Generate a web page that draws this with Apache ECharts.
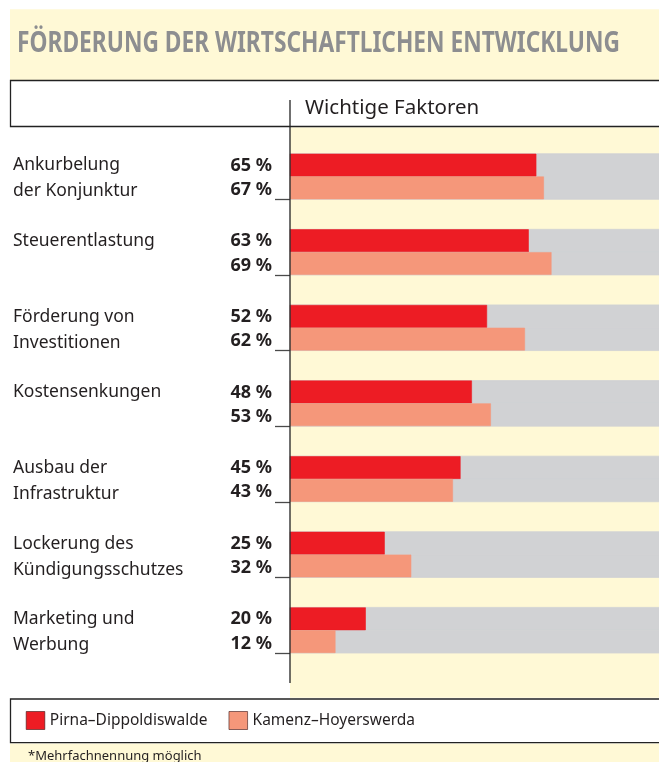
<!DOCTYPE html>
<html><head><meta charset="utf-8">
<script src="https://cdn.jsdelivr.net/npm/echarts@6/dist/echarts.min.js"></script>
<style>html,body{margin:0;padding:0;background:#fff}#c{width:659px;height:762px}</style>
</head><body><div id="c"></div>
<script>
// ---- data ----
const categories = [
  'Ankurbelung\nder Konjunktur',
  'Steuerentlastung',
  'Förderung von\nInvestitionen',
  'Kostensenkungen',
  'Ausbau der\nInfrastruktur',
  'Lockerung des\nKündigungsschutzes',
  'Marketing und\nWerbung'
];
const pirna = [65, 63, 52, 48, 45, 25, 20];
const kamenz = [67, 69, 62, 53, 43, 32, 12];
const seriesNames = ['Pirna–Dippoldiswalde', 'Kamenz–Hoyerswerda'];
const titleText = 'FÖRDERUNG DER WIRTSCHAFTLICHEN ENTWICKLUNG';
const columnTitle = 'Wichtige Faktoren';
const footnote = '*Mehrfachnennung möglich';

// ---- styles ----
const FONT = '"Noto Sans", "Open Sans", sans-serif';
const YELLOW = '#FFF9D6';
const RED = '#ED1C24';
const SALMON = '#F5977A';
const GRAY = '#D1D2D4';
const INK = '#231F20';
const TITLE_FONT = 'bold 28px "Noto Sans", sans-serif';

// fit title to its printed width
const mctx = document.createElement('canvas').getContext('2d');
mctx.font = TITLE_FONT;
const titleScale = 603 / mctx.measureText(titleText).width;

const chart = echarts.init(document.getElementById('c'), null, {renderer: 'canvas'});

const valueLabel = (dy) => ({
  show: true,
  position: [-18, '50%'],
  offset: [0, dy],
  align: 'right',
  verticalAlign: 'middle',
  formatter: '{c} %',
  fontFamily: FONT,
  fontWeight: 'bold',
  fontSize: 18,
  color: INK
});

chart.setOption({
  animation: false,
  backgroundColor: '#fff',
  grid: {left: 290, top: 123.7, width: 379, height: 529.3, containLabel: false, outerBoundsMode: 'none'},
  xAxis: {type: 'value', min: 0, max: 100, show: false},
  yAxis: {
    type: 'category',
    inverse: true,
    data: categories,
    axisLine: {show: false},
    axisTick: {
      show: true,
      length: 15,
      interval: (i) => i > 0,
      lineStyle: {color: '#4a4a4a', width: 1.3}
    },
    axisLabel: {
      interval: 0,
      align: 'left',
      margin: 277,
      formatter: (v) => {
        const lines = v.split('\n');
        while (lines.length < 2) lines.push(' ');
        return '{s| }\n' + lines.map(l => '{t|' + l + '}').join('\n');
      },
      rich: {
        s: {lineHeight: 34, fontSize: 2},
        t: {lineHeight: 26, fontSize: 17.5, fontFamily: FONT, color: INK}
      }
    }
  },
  legend: {
    data: seriesNames,
    left: 25.7,
    top: 711,
    itemWidth: 18.6,
    itemHeight: 18,
    itemGap: 21,
    icon: 'rect',
    padding: 0,
    itemStyle: {borderColor: 'rgba(60,20,20,0.6)', borderWidth: 1},
    textStyle: {fontFamily: FONT, fontSize: 15.5, color: INK}
  },
  series: [
    {type: 'bar', name: 'spacer', data: [], barWidth: 30, barGap: 0, silent: true,
     itemStyle: {color: 'transparent'}},
    {type: 'bar', name: seriesNames[0], data: pirna, barWidth: 22.8, barGap: 0,
     itemStyle: {color: RED, borderColor: RED, borderWidth: 0.6},
     showBackground: true, backgroundStyle: {color: GRAY, borderColor: GRAY, borderWidth: 0.8},
     label: valueLabel(0.5)},
    {type: 'bar', name: seriesNames[1], data: kamenz, barWidth: 22.8, barGap: 0,
     itemStyle: {color: SALMON, borderColor: SALMON, borderWidth: 0.6},
     showBackground: true, backgroundStyle: {color: GRAY, borderColor: GRAY, borderWidth: 0.8},
     label: valueLabel(2)}
  ],
  graphic: [
    {type: 'rect', z: -10, shape: {x: 10, y: 9.3, width: 649, height: 71}, style: {fill: YELLOW}},
    {type: 'text', z: -5, x: 17, y: 44, scaleX: titleScale, style: {text: titleText, fill: '#8D8E90',
      font: TITLE_FONT, verticalAlign: 'middle', textVerticalAlign: 'middle'}},
    {type: 'rect', z: -8, shape: {x: 10.5, y: 80.5, width: 660, height: 46}, style: {fill: '#fff', stroke: '#222', lineWidth: 1.3}},
    {type: 'text', z: -5, x: 305, y: 108.5, style: {text: columnTitle, fill: INK,
      font: '20.5px "Noto Sans", sans-serif', verticalAlign: 'middle', textVerticalAlign: 'middle'}},
    {type: 'rect', z: -10, shape: {x: 290, y: 127.3, width: 369, height: 570.5}, style: {fill: YELLOW}},
    {type: 'line', z: 20, shape: {x1: 290, y1: 100, x2: 290, y2: 683}, style: {stroke: '#222', lineWidth: 1.3}},
    {type: 'rect', z: -8, shape: {x: 10.5, y: 699, width: 660, height: 43.7}, style: {fill: '#fff', stroke: '#222', lineWidth: 1.3}},
    {type: 'rect', z: -10, shape: {x: 10, y: 743.4, width: 649, height: 19}, style: {fill: YELLOW}},
    {type: 'text', z: -5, x: 28, y: 756, style: {text: footnote, fill: INK,
      font: '13px "Noto Sans", sans-serif', verticalAlign: 'middle', textVerticalAlign: 'middle'}}
  ]
});
</script>
</body></html>
